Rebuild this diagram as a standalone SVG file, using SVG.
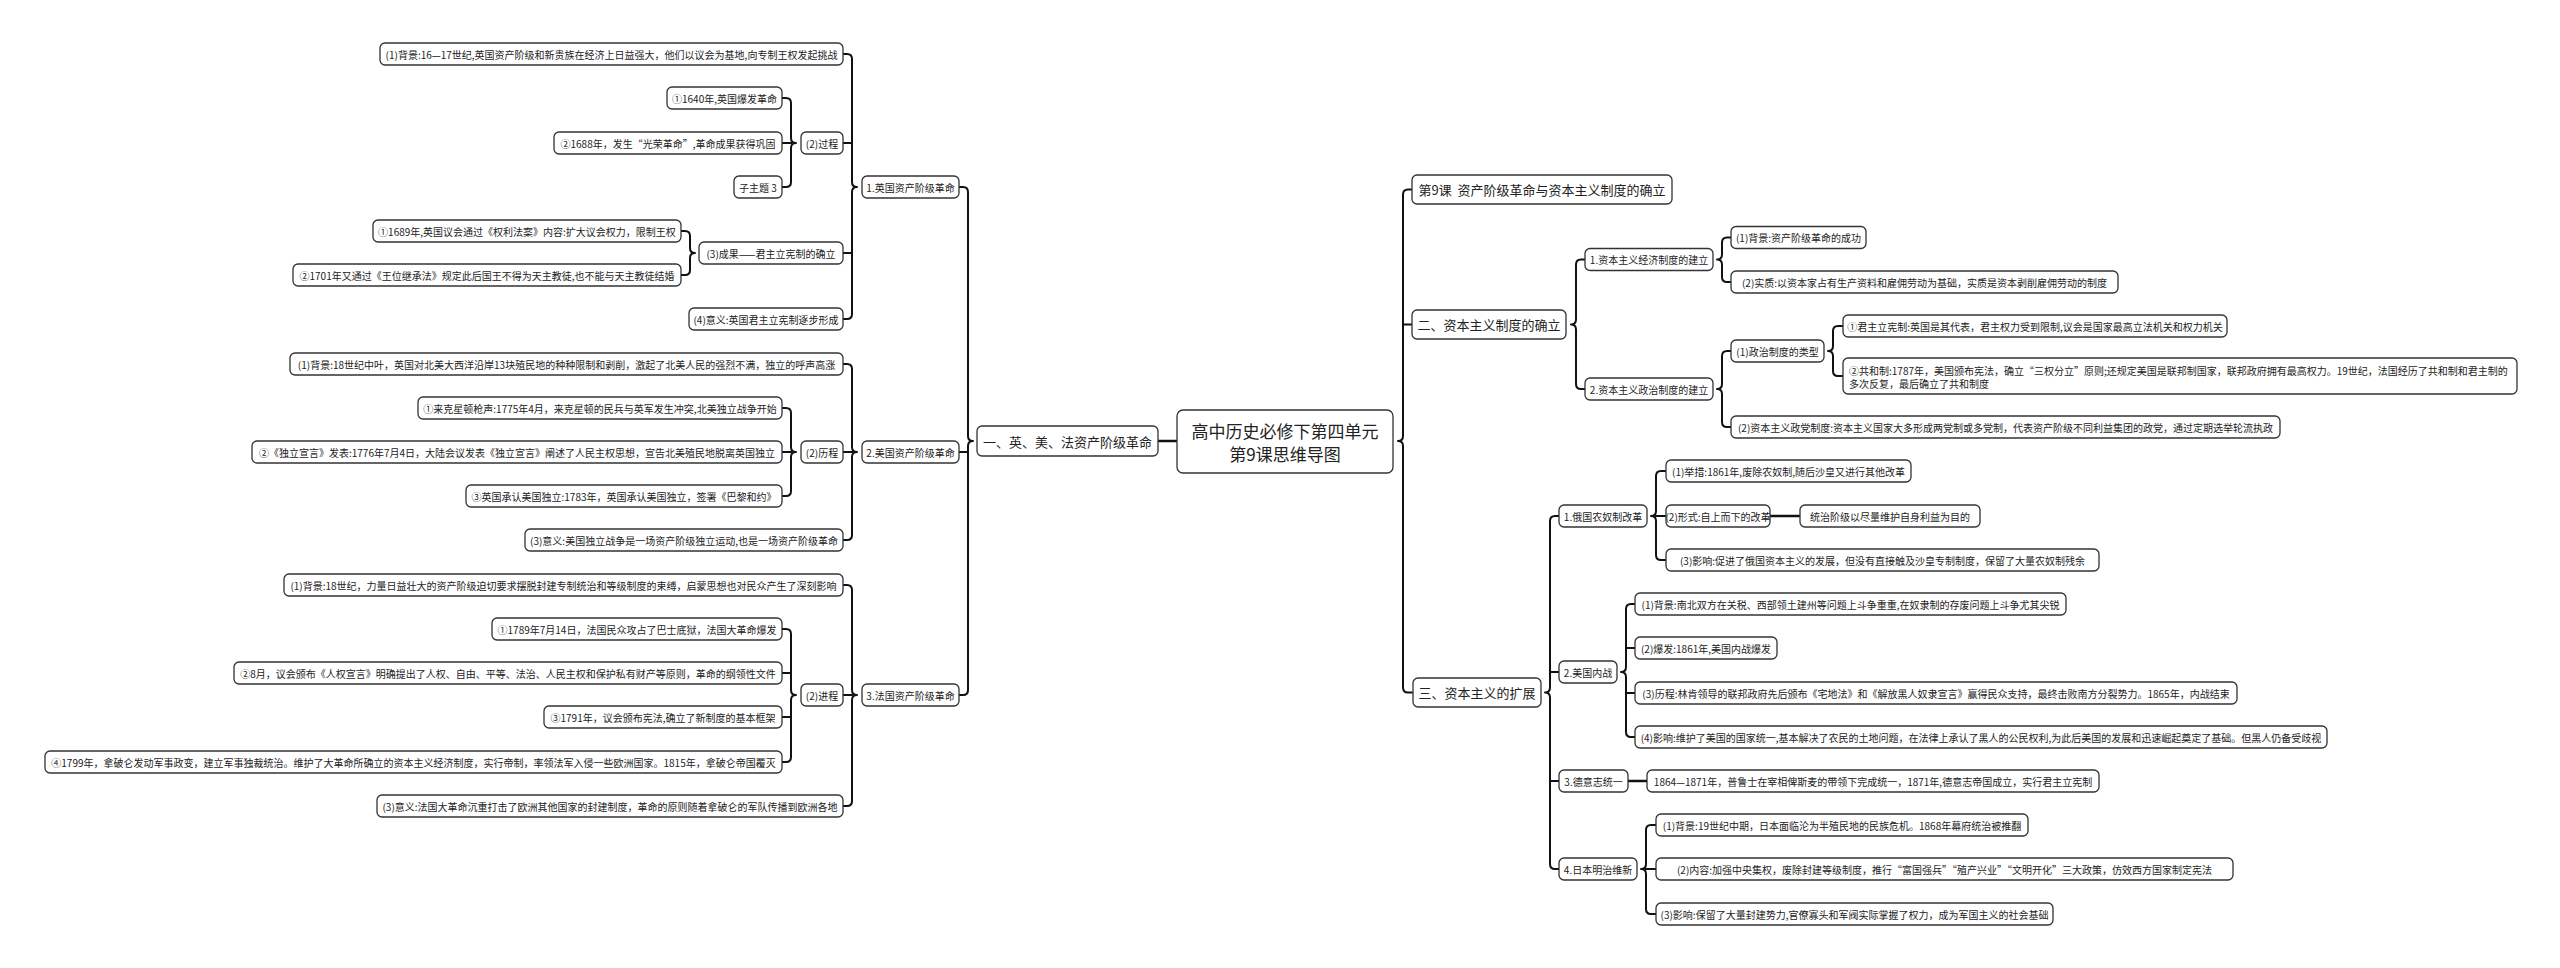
<svg xmlns="http://www.w3.org/2000/svg" width="2560" height="968" viewBox="0 0 2560 968">
<style>
.n rect{fill:#fff;stroke:#333;stroke-width:1.3}
.n text{font-family:"Noto Sans CJK SC","Liberation Sans",sans-serif;font-size:10px;fill:#222;text-anchor:middle;dominant-baseline:central}
.n text.s{text-anchor:start}
.l1 text{font-size:13px}
.c0 text{font-size:17px}
.c path{fill:none;stroke:#111;stroke-width:2;stroke-linecap:round;stroke-linejoin:round}
.c path.w{stroke-width:2.6}
</style>
<rect width="2560" height="968" fill="#fff"/>
<g id="connectors" class="c">
<path class="w" d="M1158 441 L1177 441"/>
<path d="M959 187 L963 187 Q968 187 968 192 L968 436 Q968 441 973 441 Q968 441 968 446 L968 690 Q968 695 963 695 L959 695 M959 452 L968 452"/>
<path d="M843 54 L847 54 Q852 54 852 59 L852 182 Q852 187 857 187 Q852 187 852 192 L852 314 Q852 319 847 319 L843 319 M843 143 L852 143 M843 253 L852 253"/>
<path d="M782 98 L786 98 Q791 98 791 103 L791 138 Q791 143 796 143 Q791 143 791 148 L791 182 Q791 187 786 187 L782 187 M782 143 L791 143"/>
<path d="M681 231 L685 231 Q690 231 690 236 L690 248 Q690 253 695 253 Q690 253 690 258 L690 270 Q690 275 685 275 L681 275"/>
<path d="M843 364 L847 364 Q852 364 852 369 L852 447 Q852 452 857 452 Q852 452 852 457 L852 535 Q852 540 847 540 L843 540 M843 452 L852 452"/>
<path d="M782 408 L786 408 Q791 408 791 413 L791 447 Q791 452 796 452 Q791 452 791 457 L791 491 Q791 496 786 496 L782 496 M782 452 L791 452"/>
<path d="M843 585 L847 585 Q852 585 852 590 L852 690 Q852 695 857 695 Q852 695 852 700 L852 801 Q852 806 847 806 L843 806 M843 695 L852 695"/>
<path d="M782 629 L786 629 Q791 629 791 634 L791 690 Q791 695 796 695 Q791 695 791 700 L791 757 Q791 762 786 762 L782 762 M782 673 L791 673 M782 717 L791 717"/>
<path d="M1412 189.5 L1408 189.5 Q1403 189.5 1403 194.5 L1403 436 Q1403 441 1398 441 Q1403 441 1403 446 L1403 687.5 Q1403 692.5 1408 692.5 L1412 692.5 M1412 324.5 L1403 324.5"/>
<path d="M1585 259.5 L1581 259.5 Q1576 259.5 1576 264.5 L1576 319.5 Q1576 324.5 1571 324.5 Q1576 324.5 1576 329.5 L1576 384 Q1576 389 1581 389 L1585 389"/>
<path d="M1731 237.5 L1727 237.5 Q1722 237.5 1722 242.5 L1722 254.5 Q1722 259.5 1717 259.5 Q1722 259.5 1722 264.5 L1722 277 Q1722 282 1727 282 L1731 282"/>
<path d="M1731 351 L1727 351 Q1722 351 1722 356 L1722 384 Q1722 389 1717 389 Q1722 389 1722 394 L1722 422 Q1722 427 1727 427 L1731 427"/>
<path d="M1843 326 L1838 326 Q1833 326 1833 331 L1833 346 Q1833 351 1828 351 Q1833 351 1833 356 L1833 371 Q1833 376 1838 376 L1843 376"/>
<path d="M1559 516 L1555 516 Q1550 516 1550 521 L1550 687.5 Q1550 692.5 1545 692.5 Q1550 692.5 1550 697.5 L1550 864 Q1550 869 1555 869 L1559 869 M1559 672 L1550 672 M1559 781 L1550 781"/>
<path d="M1666 471 L1661 471 Q1656 471 1656 476 L1656 511 Q1656 516 1651 516 Q1656 516 1656 521 L1656 555 Q1656 560 1661 560 L1666 560 M1666 516 L1656 516"/>
<path class="w" d="M1770 516 L1800 516"/>
<path d="M1635 604 L1631 604 Q1626 604 1626 609 L1626 667 Q1626 672 1621 672 Q1626 672 1626 677 L1626 732 Q1626 737 1631 737 L1635 737 M1635 648 L1626 648 M1635 693 L1626 693"/>
<path class="w" d="M1628 781 L1647 781"/>
<path d="M1656 825 L1651 825 Q1646 825 1646 830 L1646 864 Q1646 869 1641 869 Q1646 869 1646 874 L1646 909 Q1646 914 1651 914 L1656 914 M1656 869 L1646 869"/>
</g>
<g id="center" class="n c0"><rect x="1177" y="410" width="216" height="63" rx="6"/><text x="1285" y="430">高中历史必修下第四单元</text><text x="1285" y="453">第9课思维导图</text></g>
<g id="n-l1" class="n l1"><rect x="977" y="426" width="181" height="30" rx="5"/><text x="1067.5" y="441">一、英、美、法资产阶级革命</text></g>
<g id="n-uk" class="n"><rect x="862" y="176" width="97" height="22" rx="5"/><text x="910.5" y="187">1.英国资产阶级革命</text></g>
<g id="n-uk1" class="n"><rect x="380" y="43" width="463" height="22" rx="5"/><text x="611.5" y="54">(1)背景:16—17世纪,英国资产阶级和新贵族在经济上日益强大，他们以议会为基地,向专制王权发起挑战</text></g>
<g id="n-uk2" class="n"><rect x="801" y="132" width="42" height="22" rx="5"/><text x="822" y="143">(2)过程</text></g>
<g id="n-uk2a" class="n"><rect x="667" y="87" width="115" height="22" rx="5"/><text x="724.5" y="98">①1640年,英国爆发革命</text></g>
<g id="n-uk2b" class="n"><rect x="554" y="132" width="228" height="22" rx="5"/><text x="668" y="143">②1688年，发生“光荣革命”,革命成果获得巩固</text></g>
<g id="n-uk2c" class="n"><rect x="734" y="176" width="48" height="22" rx="5"/><text x="758" y="187">子主题 3</text></g>
<g id="n-uk3" class="n"><rect x="699" y="242" width="144" height="22" rx="5"/><text x="771" y="253">(3)成果——君主立宪制的确立</text></g>
<g id="n-uk3a" class="n"><rect x="373" y="220" width="308" height="22" rx="5"/><text x="527" y="231">①1689年,英国议会通过《权利法案》内容:扩大议会权力，限制王权</text></g>
<g id="n-uk3b" class="n"><rect x="293" y="264" width="388" height="22" rx="5"/><text x="487" y="275">②1701年又通过《王位继承法》规定此后国王不得为天主教徒,也不能与天主教徒结婚</text></g>
<g id="n-uk4" class="n"><rect x="689" y="308" width="154" height="22" rx="5"/><text x="766" y="319">(4)意义:英国君主立宪制逐步形成</text></g>
<g id="n-us" class="n"><rect x="862" y="441" width="97" height="22" rx="5"/><text x="910.5" y="452">2.美国资产阶级革命</text></g>
<g id="n-us1" class="n"><rect x="290" y="353" width="553" height="22" rx="5"/><text x="566.5" y="364">(1)背景:18世纪中叶，英国对北美大西洋沿岸13块殖民地的种种限制和剥削，激起了北美人民的强烈不满，独立的呼声高涨</text></g>
<g id="n-us2" class="n"><rect x="801" y="441" width="42" height="22" rx="5"/><text x="822" y="452">(2)历程</text></g>
<g id="n-us2a" class="n"><rect x="418" y="397" width="364" height="22" rx="5"/><text x="600" y="408">①来克星顿枪声:1775年4月，来克星顿的民兵与英军发生冲突,北美独立战争开始</text></g>
<g id="n-us2b" class="n"><rect x="252" y="441" width="530" height="22" rx="5"/><text x="517" y="452">②《独立宣言》发表:1776年7月4日，大陆会议发表《独立宣言》阐述了人民主权思想，宣告北美殖民地脱离英国独立</text></g>
<g id="n-us2c" class="n"><rect x="466" y="485" width="316" height="22" rx="5"/><text x="624" y="496">③英国承认美国独立:1783年，英国承认美国独立，签署《巴黎和约》</text></g>
<g id="n-us3" class="n"><rect x="525" y="529" width="318" height="22" rx="5"/><text x="684" y="540">(3)意义:美国独立战争是一场资产阶级独立运动,也是一场资产阶级革命</text></g>
<g id="n-fr" class="n"><rect x="862" y="684" width="97" height="22" rx="5"/><text x="910.5" y="695">3.法国资产阶级革命</text></g>
<g id="n-fr1" class="n"><rect x="284" y="574" width="559" height="22" rx="5"/><text x="563.5" y="585">(1)背景:18世纪，力量日益壮大的资产阶级迫切要求摆脱封建专制统治和等级制度的束缚，启蒙思想也对民众产生了深刻影响</text></g>
<g id="n-fr2" class="n"><rect x="801" y="684" width="42" height="22" rx="5"/><text x="822" y="695">(2)进程</text></g>
<g id="n-fr2a" class="n"><rect x="492" y="618" width="290" height="22" rx="5"/><text x="637" y="629">①1789年7月14日，法国民众攻占了巴士底狱，法国大革命爆发</text></g>
<g id="n-fr2b" class="n"><rect x="234" y="662" width="548" height="22" rx="5"/><text x="508" y="673">②8月，议会颁布《人权宣言》明确提出了人权、自由、平等、法治、人民主权和保护私有财产等原则，革命的纲领性文件</text></g>
<g id="n-fr2c" class="n"><rect x="544" y="706" width="238" height="22" rx="5"/><text x="663" y="717">③1791年，议会颁布宪法,确立了新制度的基本框架</text></g>
<g id="n-fr2d" class="n"><rect x="45" y="751" width="737" height="22" rx="5"/><text x="413.5" y="762">④1799年，拿破仑发动军事政变，建立军事独裁统治。维护了大革命所确立的资本主义经济制度，实行帝制，率领法军入侵一些欧洲国家。1815年，拿破仑帝国覆灭</text></g>
<g id="n-fr3" class="n"><rect x="377" y="795" width="466" height="22" rx="5"/><text x="610" y="806">(3)意义:法国大革命沉重打击了欧洲其他国家的封建制度，革命的原则随着拿破仑的军队传播到欧洲各地</text></g>
<g id="n-r1" class="n l1"><rect x="1412" y="175" width="260" height="29" rx="5"/><text x="1542" y="189.5">第9课&#160;&#160;资产阶级革命与资本主义制度的确立</text></g>
<g id="n-r2" class="n l1"><rect x="1412" y="310" width="154" height="29" rx="5"/><text x="1489" y="324.5">二、资本主义制度的确立</text></g>
<g id="n-r2a" class="n"><rect x="1585" y="248.5" width="128" height="22" rx="5"/><text x="1649" y="259.5">1.资本主义经济制度的建立</text></g>
<g id="n-r2a1" class="n"><rect x="1731" y="226.5" width="135" height="22" rx="5"/><text x="1798.5" y="237.5">(1)背景:资产阶级革命的成功</text></g>
<g id="n-r2a2" class="n"><rect x="1731" y="271" width="387" height="22" rx="5"/><text x="1924.5" y="282">(2)实质:以资本家占有生产资料和雇佣劳动为基础，实质是资本剥削雇佣劳动的制度</text></g>
<g id="n-r2b" class="n"><rect x="1585" y="378" width="128" height="22" rx="5"/><text x="1649" y="389">2.资本主义政治制度的建立</text></g>
<g id="n-r2b1" class="n"><rect x="1731" y="340" width="93" height="22" rx="5"/><text x="1777.5" y="351">(1)政治制度的类型</text></g>
<g id="n-r2b1a" class="n"><rect x="1843" y="315" width="384" height="22" rx="5"/><text x="2035" y="326">①君主立宪制:英国是其代表，君主权力受到限制,议会是国家最高立法机关和权力机关</text></g>
<g id="n-r2b1b" class="n"><rect x="1843" y="358" width="674" height="36" rx="5"/><text class="s" x="1849" y="370">②共和制:1787年，美国颁布宪法，确立“三权分立”原则;还规定美国是联邦制国家，联邦政府拥有最高权力。19世纪，法国经历了共和制和君主制的</text><text class="s" x="1849" y="383.5">多次反复，最后确立了共和制度</text></g>
<g id="n-r2b2" class="n"><rect x="1731" y="416" width="549" height="22" rx="5"/><text x="2005.5" y="427">(2)资本主义政党制度:资本主义国家大多形成两党制或多党制，代表资产阶级不同利益集团的政党，通过定期选举轮流执政</text></g>
<g id="n-r3" class="n l1"><rect x="1413" y="678" width="128" height="29" rx="5"/><text x="1477" y="692.5">三、资本主义的扩展</text></g>
<g id="n-ru" class="n"><rect x="1559" y="505" width="88" height="22" rx="5"/><text x="1603" y="516">1.俄国农奴制改革</text></g>
<g id="n-ru1" class="n"><rect x="1666" y="460" width="245" height="22" rx="5"/><text x="1788.5" y="471">(1)举措:1861年,废除农奴制,随后沙皇又进行其他改革</text></g>
<g id="n-ru2" class="n"><rect x="1666" y="505" width="104" height="22" rx="5"/><text x="1718" y="516">(2)形式:自上而下的改革</text></g>
<g id="n-ru2a" class="n"><rect x="1800" y="505" width="180" height="22" rx="5"/><text x="1890" y="516">统治阶级以尽量维护自身利益为目的</text></g>
<g id="n-ru3" class="n"><rect x="1666" y="549" width="433" height="22" rx="5"/><text x="1882.5" y="560">(3)影响:促进了俄国资本主义的发展，但没有直接触及沙皇专制制度，保留了大量农奴制残余</text></g>
<g id="n-cw" class="n"><rect x="1559" y="661" width="58" height="22" rx="5"/><text x="1588" y="672">2.美国内战</text></g>
<g id="n-cw1" class="n"><rect x="1635" y="593" width="431" height="22" rx="5"/><text x="1850.5" y="604">(1)背景:南北双方在关税、西部领土建州等问题上斗争重重,在奴隶制的存废问题上斗争尤其尖锐</text></g>
<g id="n-cw2" class="n"><rect x="1635" y="637" width="142" height="22" rx="5"/><text x="1706" y="648">(2)爆发:1861年,美国内战爆发</text></g>
<g id="n-cw3" class="n"><rect x="1635" y="682" width="602" height="22" rx="5"/><text x="1936" y="693">(3)历程:林肯领导的联邦政府先后颁布《宅地法》和《解放黑人奴隶宣言》赢得民众支持，最终击败南方分裂势力。1865年，内战结束</text></g>
<g id="n-cw4" class="n"><rect x="1635" y="726" width="692" height="22" rx="5"/><text x="1981" y="737">(4)影响:维护了美国的国家统一,基本解决了农民的土地问题，在法律上承认了黑人的公民权利,为此后美国的发展和迅速崛起奠定了基础。但黑人仍备受歧视</text></g>
<g id="n-de" class="n"><rect x="1559" y="770" width="69" height="22" rx="5"/><text x="1593.5" y="781">3.德意志统一</text></g>
<g id="n-de1" class="n"><rect x="1647" y="770" width="452" height="22" rx="5"/><text x="1873" y="781">1864—1871年，普鲁士在宰相俾斯麦的带领下完成统一，1871年,德意志帝国成立，实行君主立宪制</text></g>
<g id="n-jp" class="n"><rect x="1559" y="858" width="78" height="22" rx="5"/><text x="1598" y="869">4.日本明治维新</text></g>
<g id="n-jp1" class="n"><rect x="1656" y="814" width="372" height="22" rx="5"/><text x="1842" y="825">(1)背景:19世纪中期，日本面临沦为半殖民地的民族危机。1868年幕府统治被推翻</text></g>
<g id="n-jp2" class="n"><rect x="1656" y="858" width="577" height="22" rx="5"/><text x="1944.5" y="869">(2)内容:加强中央集权，废除封建等级制度，推行“富国强兵”“殖产兴业”“文明开化”三大政策，仿效西方国家制定宪法</text></g>
<g id="n-jp3" class="n"><rect x="1656" y="903" width="397" height="22" rx="5"/><text x="1854.5" y="914">(3)影响:保留了大量封建势力,官僚寡头和军阀实际掌握了权力，成为军国主义的社会基础</text></g>
</svg>
